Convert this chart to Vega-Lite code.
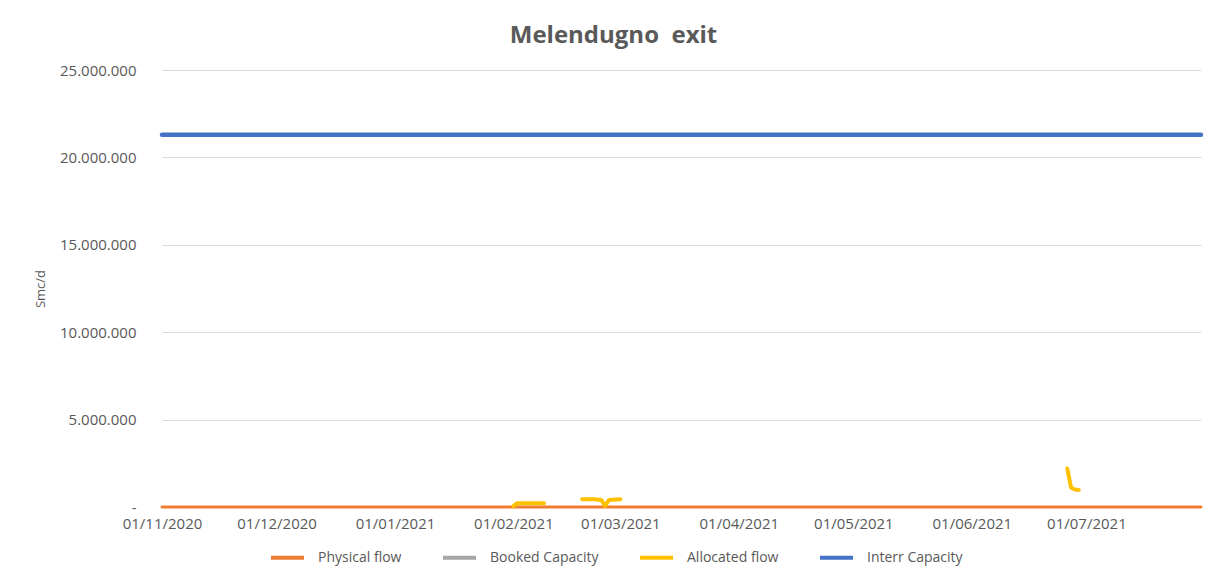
{
  "$schema": "https://vega.github.io/schema/vega-lite/v6.json",
  "width": 1039,
  "height": 437,
  "padding": {"left": 34, "top": 24, "right": 18, "bottom": 10},
  "background": "white",
  "config": {
    "locale": {"number": {"decimal": ",", "thousands": ".", "grouping": [3], "currency": ["€", ""]}},
    "view": {"stroke": null},
    "font": "Open Sans"
  },
  "title": {
    "text": "Melendugno\u00a0\u00a0exit",
    "fontSize": 24,
    "fontWeight": "bold",
    "color": "#595959",
    "font": "Open Sans",
    "offset": 15,
    "dx": -68
  },
  "data": {
    "values": [
      {"date": "2020-11-01", "series": "Physical flow", "seg": 1, "value": 0},
      {"date": "2021-07-31", "series": "Physical flow", "seg": 1, "value": 0},
      {"date": "2020-11-01", "series": "Interr Capacity", "seg": 1, "value": 21300000},
      {"date": "2021-07-31", "series": "Interr Capacity", "seg": 1, "value": 21300000},
      {"date": "2021-02-01", "series": "Allocated flow", "seg": 1, "value": 50000},
      {"date": "2021-02-02", "series": "Allocated flow", "seg": 1, "value": 220000},
      {"date": "2021-02-05", "series": "Allocated flow", "seg": 1, "value": 220000},
      {"date": "2021-02-09", "series": "Allocated flow", "seg": 1, "value": 220000},
      {"date": "2021-02-19", "series": "Allocated flow", "seg": 2, "value": 440000},
      {"date": "2021-02-22", "series": "Allocated flow", "seg": 2, "value": 440000},
      {"date": "2021-02-24", "series": "Allocated flow", "seg": 2, "value": 400000},
      {"date": "2021-02-25", "series": "Allocated flow", "seg": 2, "value": 60000},
      {"date": "2021-02-26", "series": "Allocated flow", "seg": 2, "value": 400000},
      {"date": "2021-03-01", "series": "Allocated flow", "seg": 2, "value": 440000},
      {"date": "2021-06-26", "series": "Allocated flow", "seg": 3, "value": 2200000},
      {"date": "2021-06-27", "series": "Allocated flow", "seg": 3, "value": 1100000},
      {"date": "2021-06-28", "series": "Allocated flow", "seg": 3, "value": 1000000},
      {"date": "2021-06-29", "series": "Allocated flow", "seg": 3, "value": 970000}
    ]
  },
  "encoding": {
    "x": {
      "field": "date",
      "type": "temporal",
      "scale": {"domain": ["2020-11-01", "2021-07-31"], "nice": false},
      "axis": {
        "title": null,
        "format": "%d/%m/%Y",
        "tickCount": {"interval": "month", "step": 1},
        "grid": false,
        "domain": false,
        "ticks": false,
        "labelPadding": 9,
        "labelFontSize": 15,
        "labelColor": "#595959",
        "labelFont": "Open Sans",
        "labelFlush": false
      }
    },
    "y": {
      "field": "value",
      "type": "quantitative",
      "scale": {"domain": [0, 25000000], "nice": false},
      "axis": {
        "title": "Smc/d",
        "titleFontSize": 13,
        "titleFontWeight": "normal",
        "titleColor": "#595959",
        "titlePadding": 12,
        "titleFont": "Open Sans",
        "values": [0, 5000000, 10000000, 15000000, 20000000, 25000000],
        "labelExpr": "datum.value == 0 ? '-' : format(datum.value, ',.0f')",
        "labelFontSize": 15,
        "labelColor": "#595959",
        "labelFont": "Open Sans",
        "labelPadding": 26,
        "ticks": false,
        "domain": false,
        "gridColor": "#d9d9d9",
        "gridWidth": 1
      }
    },
    "color": {
      "field": "series",
      "type": "nominal",
      "scale": {
        "domain": ["Physical flow", "Booked Capacity", "Allocated flow", "Interr Capacity"],
        "range": ["#ED7D31", "#A5A5A5", "#FFC000", "#4472C4"]
      },
      "legend": {
        "title": null,
        "orient": "none",
        "legendX": 107,
        "legendY": 469,
        "direction": "horizontal",
        "symbolType": "stroke",
        "symbolStrokeWidth": 4,
        "symbolSize": 1089,
        "labelFontSize": 14,
        "labelColor": "#595959",
        "labelFont": "Open Sans",
        "columnPadding": 33,
        "labelOffset": 12
      }
    },
    "detail": {"field": "seg", "type": "nominal"}
  },
  "layer": [
    {
      "transform": [{"filter": "datum.series == 'Physical flow'"}],
      "mark": {"type": "line", "strokeWidth": 3, "strokeCap": "round"}
    },
    {
      "transform": [{"filter": "datum.series == 'Allocated flow'"}],
      "mark": {"type": "line", "strokeWidth": 4, "strokeCap": "round", "strokeJoin": "round"}
    },
    {
      "transform": [{"filter": "datum.series == 'Interr Capacity'"}],
      "mark": {"type": "line", "strokeWidth": 4.5, "strokeCap": "round"}
    }
  ]
}
